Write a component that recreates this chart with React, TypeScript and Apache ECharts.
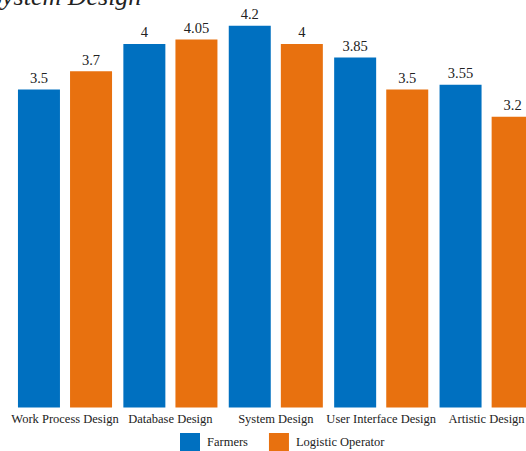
import React, { useEffect, useRef } from "react";
import * as echarts from "echarts";

const categories = [
  "Work Process Design",
  "Database Design",
  "System Design",
  "User Interface Design",
  "Artistic Design",
];
const farmers = [3.5, 4, 4.2, 3.85, 3.55];
const logisticOperator = [3.7, 4.05, 4, 3.5, 3.2];

const FONT = "'Liberation Serif', 'Times New Roman', serif";
const BLUE = "#0070C0";
const ORANGE = "#E8710F";

// The drawing surface is a little larger than the visible frame: the plot
// runs past the right edge and the title past the top edge.
const FRAME_W = 526;
const FRAME_H = 451;
const OFFSET_TOP = 20;
const CANVAS_W = 545;
const CANVAS_H = FRAME_H + OFFSET_TOP;

export default function App() {
  const ref = useRef<HTMLDivElement>(null);

  useEffect(() => {
    if (!ref.current) return;
    const chart = echarts.init(ref.current, undefined, { renderer: "svg" });
    const label = {
      show: true,
      position: "top" as const,
      distance: 4,
      color: "#222",
      fontFamily: FONT,
      fontSize: 14.5,
    };
    chart.setOption({
      animation: false,
      textStyle: { fontFamily: FONT },
      title: {
        text: "System Design",
        left: -11,
        top: OFFSET_TOP - 17,
        padding: 0,
        textStyle: {
          fontFamily: FONT,
          fontStyle: "italic",
          fontWeight: "normal",
          fontSize: 26,
          color: "#222",
        },
      },
      legend: {
        left: 180,
        bottom: 0,
        padding: 0,
        itemWidth: 20,
        itemHeight: 18,
        itemGap: 21,
        icon: "rect",
        textStyle: { fontFamily: FONT, fontSize: 12.5, color: "#222", padding: [0, 0, 0, 2] },
        data: ["Farmers", "Logistic Operator"],
      },
      grid: { left: 12.3, width: 527, top: OFFSET_TOP - 1.5, bottom: 43.5, containLabel: false },
      xAxis: {
        type: "category",
        data: categories,
        axisLine: { show: false },
        axisTick: { show: false },
        axisLabel: {
          interval: 0,
          margin: 5,
          color: "#222",
          fontFamily: FONT,
          fontSize: 12.5,
        },
      },
      yAxis: {
        type: "value",
        min: 0,
        max: 4.5,
        show: false,
        splitLine: { show: false },
      },
      series: [
        {
          name: "Farmers",
          type: "bar",
          data: farmers,
          barWidth: 42,
          barGap: "24%",
          itemStyle: { color: BLUE },
          label,
        },
        {
          name: "Logistic Operator",
          type: "bar",
          data: logisticOperator,
          barWidth: 42,
          barGap: "24%",
          itemStyle: { color: ORANGE },
          label,
        },
      ],
    });
    return () => chart.dispose();
  }, []);

  return (
    <div
      style={{
        position: "absolute",
        left: 0,
        top: 0,
        width: FRAME_W,
        height: FRAME_H,
        overflow: "hidden",
      }}
    >
      <div
        ref={ref}
        style={{
          position: "absolute",
          left: 0,
          top: -OFFSET_TOP,
          width: CANVAS_W,
          height: CANVAS_H,
        }}
      />
    </div>
  );
}
